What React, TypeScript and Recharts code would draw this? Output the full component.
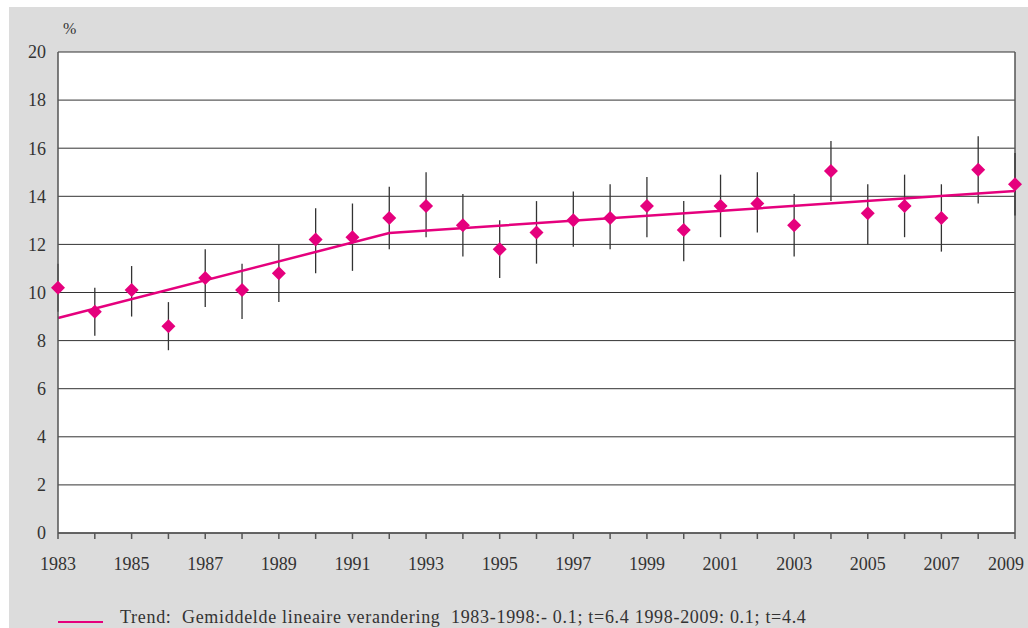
import React from "react";
import {
  ComposedChart,
  Scatter,
  Line,
  ErrorBar,
  XAxis,
  YAxis,
  CartesianGrid,
  ReferenceLine,
} from "recharts";

// Jaren (x-as)
const years = [
  1983, 1984, 1985, 1986, 1987, 1988, 1989, 1990, 1991, 1992, 1993, 1994, 1995,
  1996, 1997, 1998, 1999, 2000, 2001, 2002, 2003, 2004, 2005, 2006, 2007, 2008, 2009,
];

// Percentages (punten)
const values = [
  10.2, 9.2, 10.1, 8.6, 10.6, 10.1, 10.8, 12.2, 12.3, 13.1, 13.6, 12.8, 11.8,
  12.5, 13.0, 13.1, 13.6, 12.6, 13.6, 13.7, 12.8, 15.05, 13.3, 13.6, 13.1, 15.1, 14.5,
];

// Betrouwbaarheidsinterval: onder- en bovengrens
const lower = [
  9.2, 8.2, 9.0, 7.6, 9.4, 8.9, 9.6, 10.8, 10.9, 11.8, 12.3, 11.5, 10.6,
  11.2, 11.9, 11.8, 12.3, 11.3, 12.3, 12.5, 11.5, 13.8, 12.0, 12.3, 11.7, 13.7, 13.2,
];
const upper = [
  11.2, 10.2, 11.1, 9.6, 11.8, 11.2, 12.0, 13.5, 13.7, 14.4, 15.0, 14.1, 13.0,
  13.8, 14.2, 14.5, 14.8, 13.8, 14.9, 15.0, 14.1, 16.3, 14.5, 14.9, 14.5, 16.5, 15.8,
];

// Trendlijn (knikpunten)
const trendYears = [1983, 1992, 2009];
const trendValues = [8.94, 12.47, 14.22];

const yTicks = [0, 2, 4, 6, 8, 10, 12, 14, 16, 18, 20];

const PINK = "#e5007d";
const INK = "#333333";
const FONT = "'Liberation Serif', 'DejaVu Serif', serif";

const data = years.map((year, i) => {
  const t = trendYears.indexOf(year);
  return {
    year,
    value: values[i],
    err: [values[i] - lower[i], upper[i] - values[i]],
    trend: t >= 0 ? trendValues[t] : null,
  };
});

const Diamond = (props: any) => {
  const { cx, cy } = props;
  const r = 7;
  return (
    <path
      d={`M${cx},${cy - r} L${cx + r},${cy} L${cx},${cy + r} L${cx - r},${cy} Z`}
      fill={PINK}
    />
  );
};

// odd years labelled; last label pulled inside the frame
const YearTick = (props: any) => {
  const { x, y, payload } = props;
  const v = payload.value as number;
  if (v % 2 === 0) return null;
  const last = v === years[years.length - 1];
  return (
    <text
      x={last ? x + 9 : x}
      y={y}
      dy="0.71em"
      textAnchor={last ? "end" : "middle"}
      fill={INK}
      fontSize={18}
      fontFamily={FONT}
    >
      {v}
    </text>
  );
};

export default function App() {
  return (
    <div
      style={{
        position: "absolute",
        left: 9,
        top: 7,
        width: 1019,
        height: 621,
        background: "#dcdcdc",
        fontFamily: FONT,
        color: INK,
      }}
    >
      <div style={{ position: "absolute", left: 54, top: 13, fontSize: 16 }}>%</div>

      <ComposedChart
        width={1019}
        height={621}
        data={data}
        margin={{ top: 45, right: 13, bottom: 65, left: 9 }}
      >
        <CartesianGrid
          horizontal
          vertical={false}
          stroke={INK}
          strokeWidth={1}
          fill="#ffffff"
          fillOpacity={1}
        />
        <XAxis
          dataKey="year"
          type="number"
          domain={[1983, 2009]}
          ticks={years}
          interval={0}
          axisLine={{ stroke: "#555", strokeWidth: 1.5 }}
          tickLine={{ stroke: "#555", strokeWidth: 1.5 }}
          tickSize={6}
          tickMargin={18}
          tick={<YearTick />}
          height={30}
        />
        <YAxis
          type="number"
          domain={[0, 20]}
          ticks={yTicks}
          interval={0}
          axisLine={{ stroke: "#555", strokeWidth: 1.5 }}
          tickLine={false}
          tickSize={0}
          tickMargin={12}
          tick={{ fill: INK, fontSize: 18, fontFamily: FONT }}
          width={40}
        />
        <ReferenceLine x={2009} stroke="#555" strokeWidth={1.5} />
        <Scatter dataKey="value" shape={<Diamond />} isAnimationActive={false}>
          <ErrorBar dataKey="err" direction="y" width={0} stroke={INK} strokeWidth={1.3} />
        </Scatter>
        <Line
          dataKey="trend"
          stroke={PINK}
          strokeWidth={2.5}
          dot={false}
          activeDot={false}
          connectNulls
          isAnimationActive={false}
        />
      </ComposedChart>

      <div
        style={{
          position: "absolute",
          left: 49,
          top: 600,
          display: "flex",
          alignItems: "center",
          fontSize: 18,
          letterSpacing: 0.7,
          whiteSpace: "pre",
        }}
      >
        <span
          style={{ display: "inline-block", width: 45, height: 2, background: PINK, marginRight: 17, marginTop: 8 }}
        />
        <span>Trend:  Gemiddelde lineaire verandering  1983-1998:- 0.1; t=6.4 1998-2009: 0.1; t=4.4</span>
      </div>
    </div>
  );
}
